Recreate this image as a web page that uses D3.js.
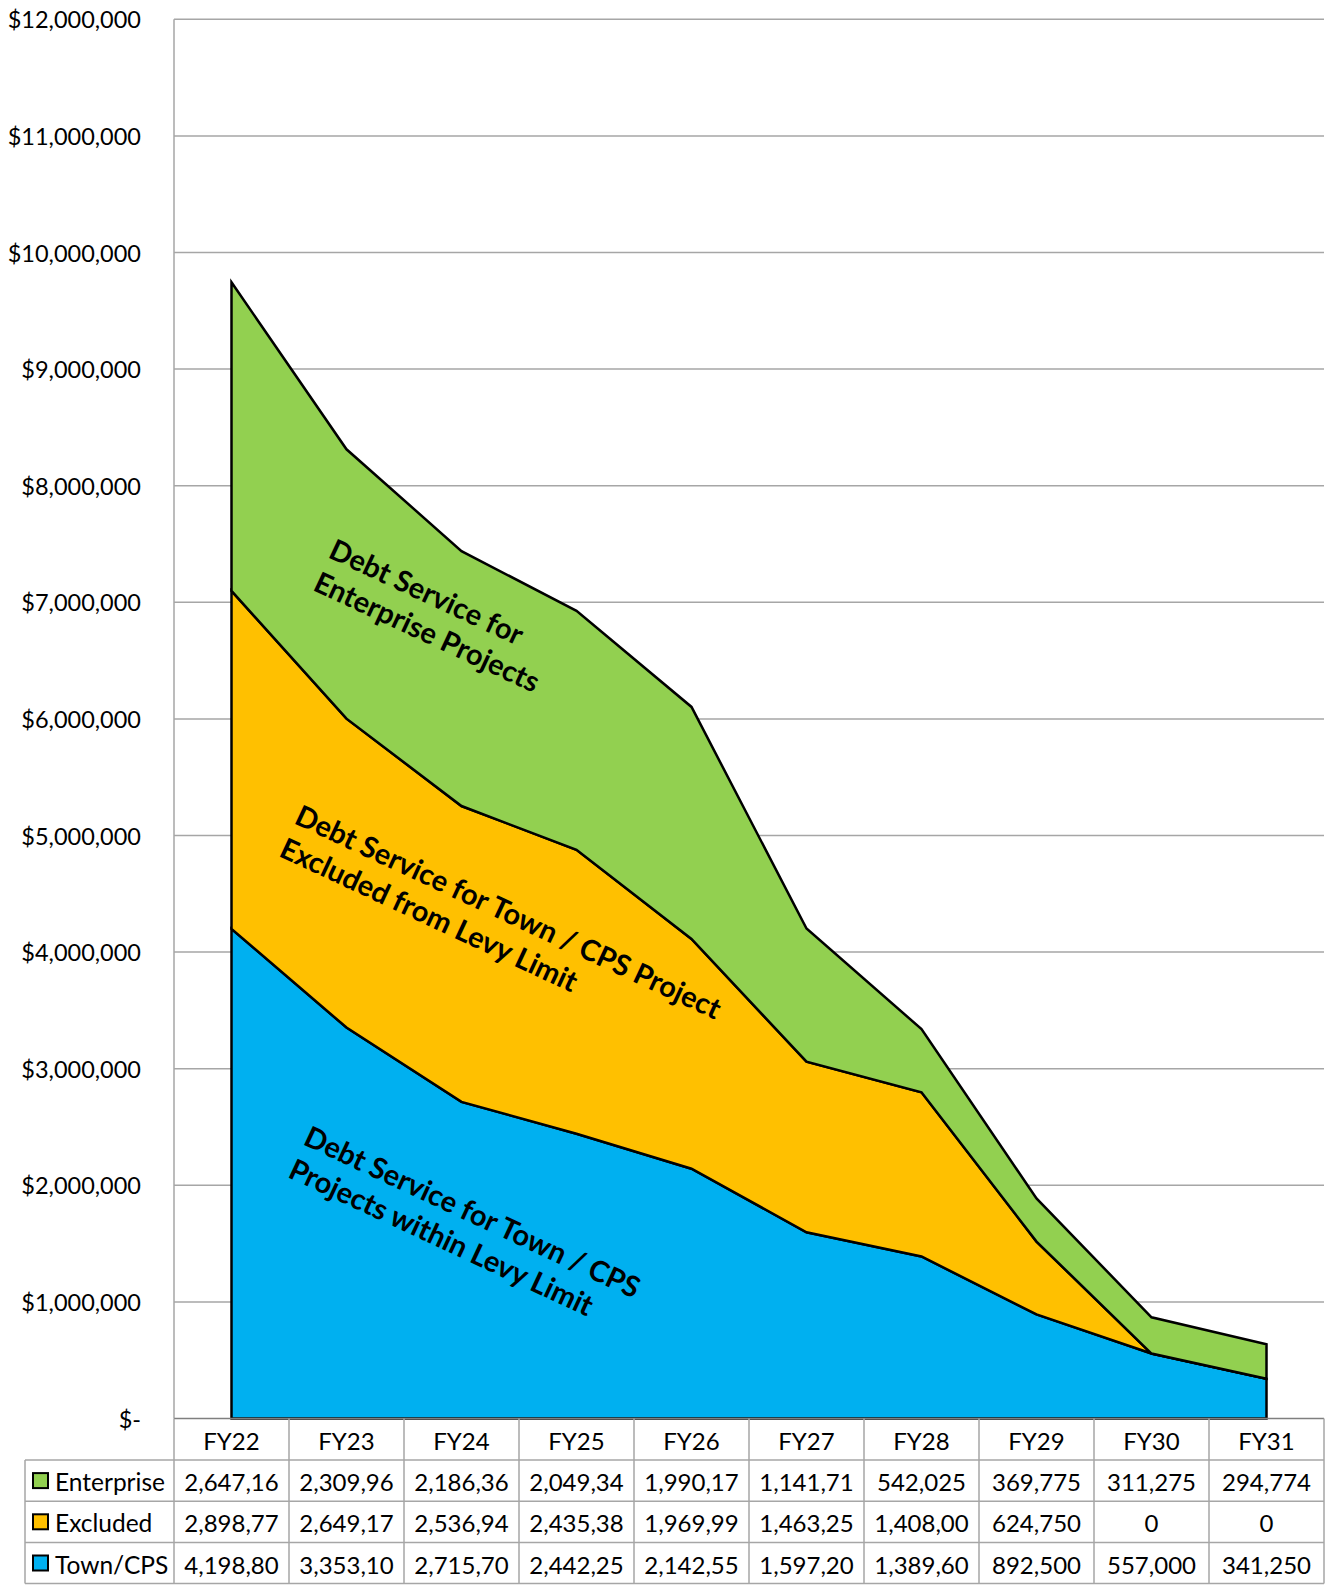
<!DOCTYPE html>
<html>
<head>
<meta charset="utf-8">
<script src="https://cdn.jsdelivr.net/npm/d3@7"></script>
<style>
  html, body { margin: 0; padding: 0; background: #fff; }
  svg { display: block; font-family: Lato, "Open Sans", sans-serif; }
</style>
</head>
<body>
<svg id="chart" width="1326" height="1585"></svg>
<script>
// ---------------- data ----------------
const categories = ["FY22","FY23","FY24","FY25","FY26","FY27","FY28","FY29","FY30","FY31"];
const enterprise = [2647163, 2309962, 2186364, 2049345, 1990175, 1141712, 542025, 369775, 311275, 294774];
const excluded   = [2898775, 2649175, 2536944, 2435388, 1969994, 1463250, 1408000, 624750, 0, 0];
const townCPS    = [4198800, 3353100, 2715700, 2442250, 2142550, 1597200, 1389600, 892500, 557000, 341250];
const seriesKeys   = ["town", "excluded", "enterprise"];
const seriesLabels = {enterprise: "Enterprise", excluded: "Excluded", town: "Town/CPS"};
const seriesColors = {enterprise: "#92D050", excluded: "#FFC000", town: "#00B0F0"};
const tableOrder = ["enterprise", "excluded", "town"];
const yMax = 12000000;
const areaLabels = [
  {lines: ["Debt Service for", "Enterprise Projects"], x: 327, y: 557},
  {lines: ["Debt Service for Town / CPS Project", "Excluded from Levy Limit"], x: 293, y: 823},
  {lines: ["Debt Service for Town / CPS", "Projects within Levy Limit"], x: 302, y: 1144}
];

// ---------------- layout ----------------
const svg = d3.select("#chart");
const plotLeft = 174, plotRight = 1324, plotTop = 19.3, plotBottom = 1418.5;
const tableLeft = 25, headerBottom = 1460, rowH = 41.2;
const gridColor = "#a6a6a6";

const rows = categories.map((c, i) => ({cat: c, enterprise: enterprise[i], excluded: excluded[i], town: townCPS[i]}));

const x = d3.scaleBand().domain(categories).range([plotLeft, plotRight]);
const cx = c => x(c) + x.bandwidth() / 2;
const y = d3.scaleLinear().domain([0, yMax]).range([plotBottom, plotTop]);

// gridlines
const ticks = y.ticks(12);
svg.append("g").selectAll("line").data(ticks.filter(t => t > 0)).join("line")
  .attr("x1", plotLeft).attr("x2", plotRight)
  .attr("y1", d => y(d)).attr("y2", d => y(d))
  .attr("stroke", gridColor).attr("stroke-width", 1.5);

// y axis line
svg.append("line").attr("x1", plotLeft).attr("x2", plotLeft)
  .attr("y1", plotTop).attr("y2", plotBottom)
  .attr("stroke", gridColor).attr("stroke-width", 1.5);

// y tick labels
const fmtTick = d => d === 0 ? "$-" : "$" + d3.format(",")(d);
svg.append("g").selectAll("text").data(ticks).join("text")
  .attr("x", 141).attr("y", d => y(d))
  .attr("text-anchor", "end").attr("dominant-baseline", "central")
  .attr("font-size", 23.5).attr("fill", "#000")
  .text(fmtTick);

// stacked areas
const stack = d3.stack().keys(seriesKeys);
const stacked = stack(rows);
const area = d3.area()
  .x(d => cx(d.data.cat))
  .y0(d => y(d[0]))
  .y1(d => y(d[1]));
svg.append("g").selectAll("path").data(stacked).join("path")
  .attr("d", d => area(d) )
  .attr("fill", d => seriesColors[d.key])
  .attr("stroke", "#000").attr("stroke-width", 2.5)
  .attr("stroke-linejoin", "miter");

// x axis line
svg.append("line").attr("x1", plotLeft).attr("x2", plotRight)
  .attr("y1", plotBottom).attr("y2", plotBottom)
  .attr("stroke", "#7f7f7f").attr("stroke-width", 1.5);

// area labels
areaLabels.forEach(l => {
  const t = svg.append("text")
    .attr("transform", `translate(${l.x},${l.y}) rotate(25)`)
    .attr("font-size", 29).attr("font-weight", "bold").attr("fill", "#000");
  l.lines.forEach((s, i) => t.append("tspan").attr("x", 0).attr("dy", i === 0 ? 0 : 36).text(s));
});

// ---------------- data table ----------------
const tbl = svg.append("g");
const tableBottom = headerBottom + rowH * tableOrder.length;
const colEdges = categories.map(c => x(c)).concat([plotRight]);
tbl.selectAll("line.v").data(colEdges).join("line").attr("class", "v")
  .attr("x1", d => d).attr("x2", d => d)
  .attr("y1", plotBottom).attr("y2", tableBottom)
  .attr("stroke", gridColor).attr("stroke-width", 1.5);
tbl.append("line").attr("x1", tableLeft).attr("x2", tableLeft)
  .attr("y1", headerBottom).attr("y2", tableBottom)
  .attr("stroke", gridColor).attr("stroke-width", 1.5);
const hLines = d3.range(tableOrder.length + 1).map(i => headerBottom + i * rowH);
tbl.selectAll("line.h").data(hLines).join("line").attr("class", "h")
  .attr("x1", tableLeft).attr("x2", plotRight)
  .attr("y1", d => d).attr("y2", d => d)
  .attr("stroke", gridColor).attr("stroke-width", 1.5);

// header labels
tbl.selectAll("text.hdr").data(categories).join("text").attr("class", "hdr")
  .attr("x", d => cx(d)).attr("y", (plotBottom + headerBottom) / 2 + 1)
  .attr("text-anchor", "middle").attr("dominant-baseline", "central")
  .attr("font-size", 24).attr("fill", "#000").text(d => d);

// rows
const fmtCell = v => d3.format(",")(v).slice(0, 8);
tableOrder.forEach((key, ri) => {
  const ym = headerBottom + rowH * ri + rowH / 2;
  tbl.append("rect").attr("x", 33).attr("y", ym - 7.5).attr("width", 15).attr("height", 15)
    .attr("fill", seriesColors[key]).attr("stroke", "#000").attr("stroke-width", 2);
  tbl.append("text").attr("x", 55).attr("y", ym + 1)
    .attr("dominant-baseline", "central").attr("font-size", 24.5).attr("fill", "#000")
    .text(seriesLabels[key]);
  tbl.selectAll(null).data(rows).join("text")
    .attr("x", d => cx(d.cat)).attr("y", ym + 1)
    .attr("text-anchor", "middle").attr("dominant-baseline", "central")
    .attr("font-size", 24).attr("fill", "#000")
    .text(d => fmtCell(d[key]));
});
</script>
</body>
</html>
